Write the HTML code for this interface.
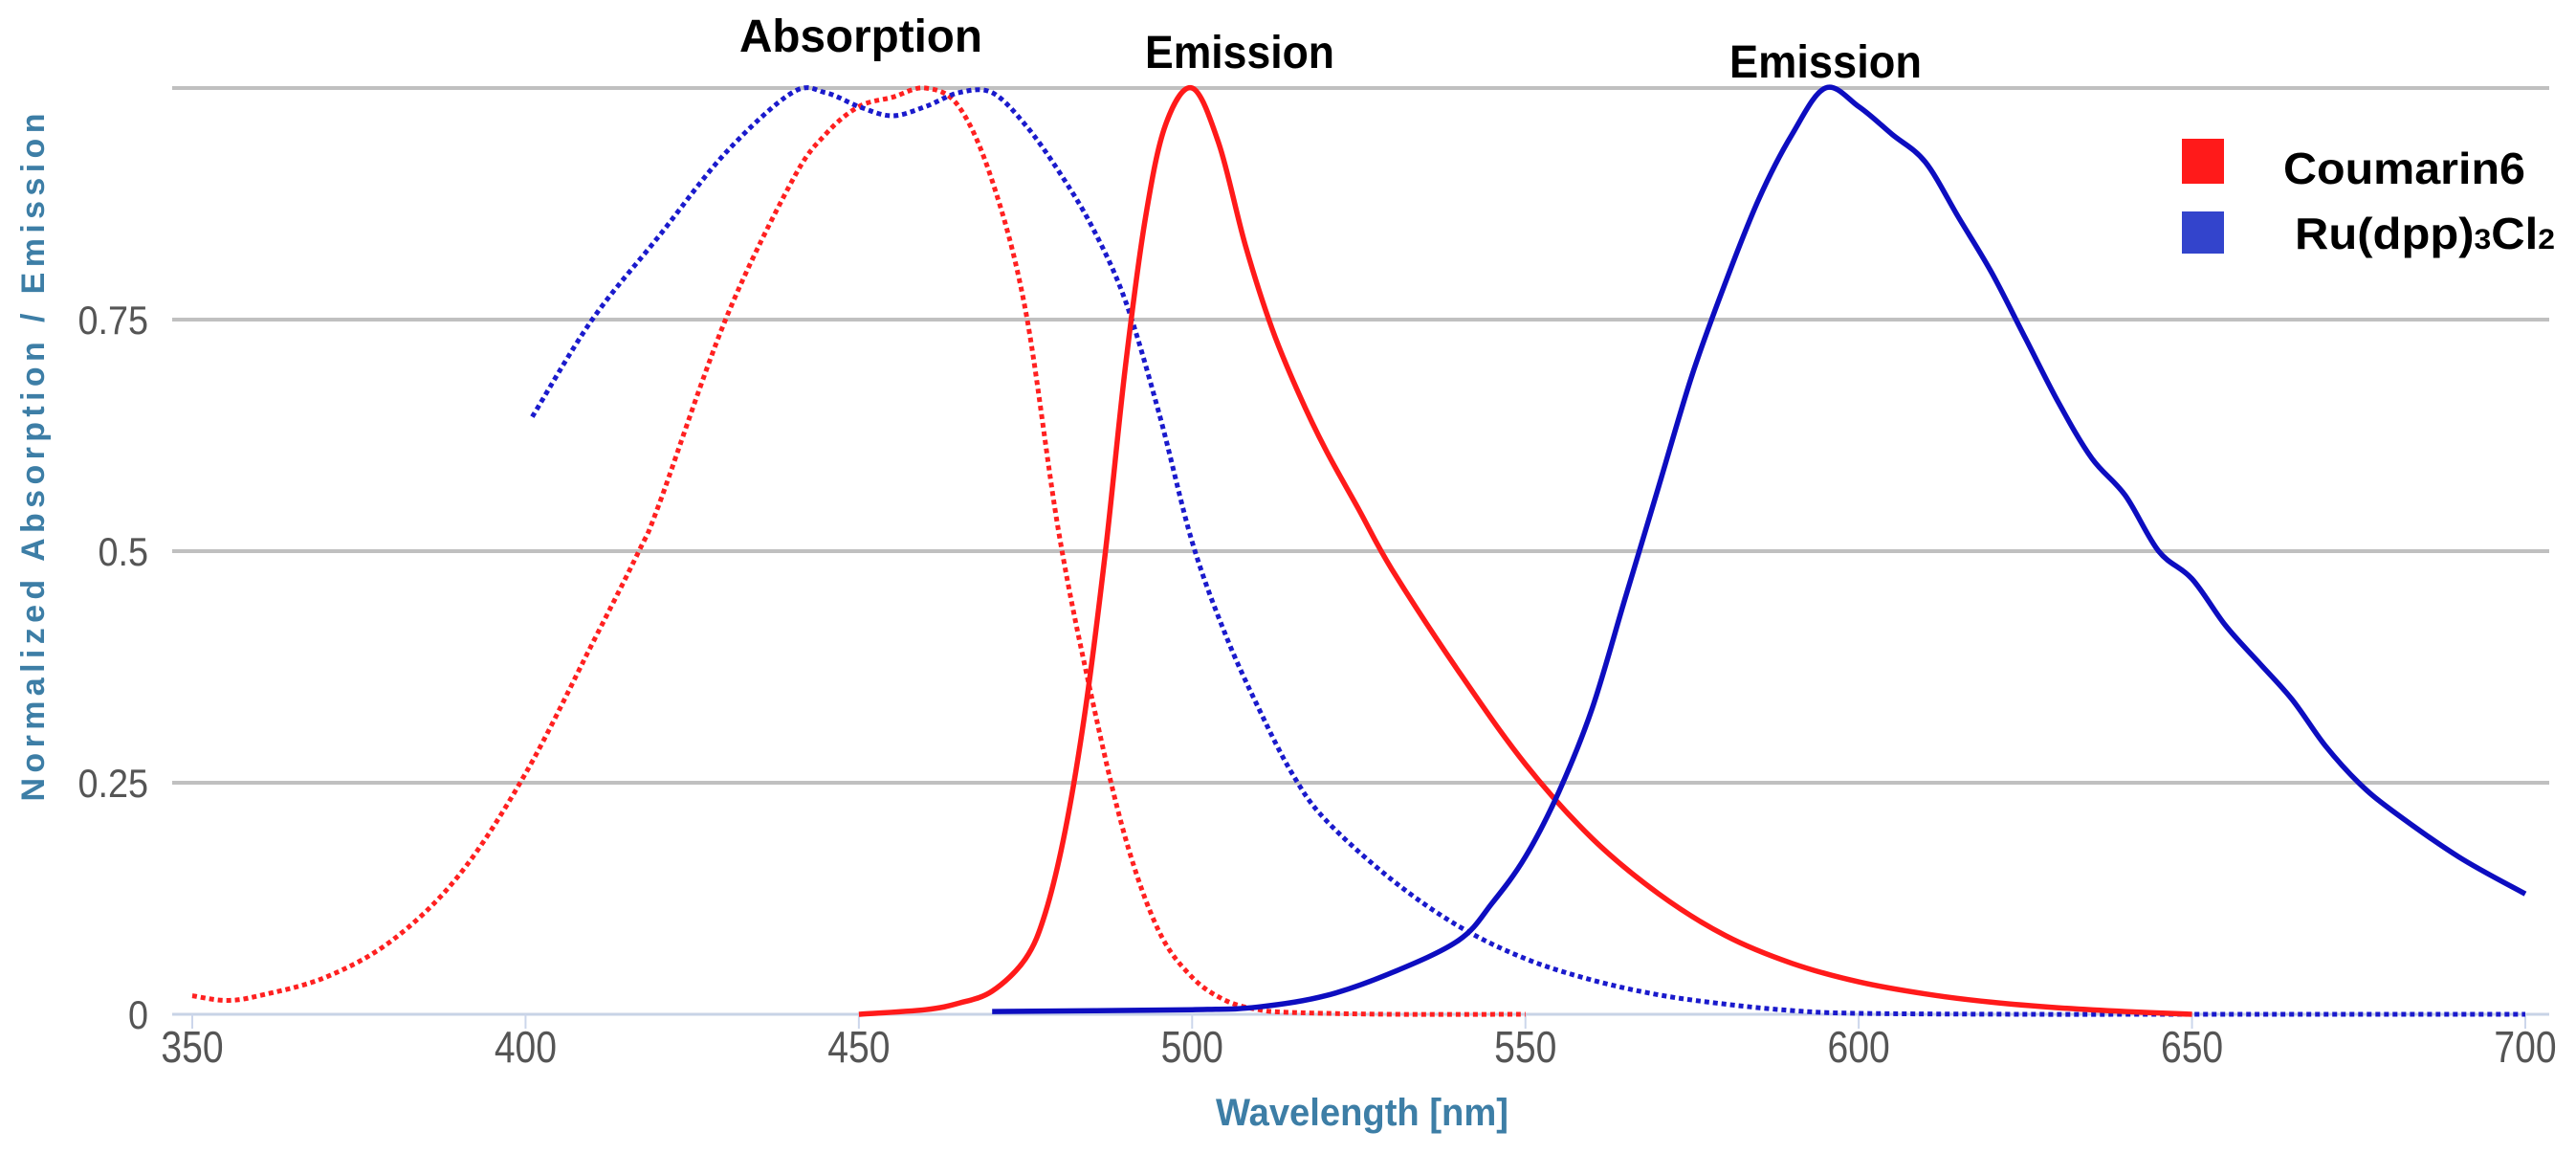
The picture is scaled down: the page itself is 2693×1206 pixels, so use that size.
<!DOCTYPE html>
<html><head><meta charset="utf-8"><style>
html,body{margin:0;padding:0;background:#fff;}
svg{display:block;font-family:"Liberation Sans",sans-serif;}
</style></head><body>
<svg id="chart" width="2693" height="1206" viewBox="0 0 2693 1206">
<g id="grid"></g>
<g id="yticks"></g>
<g id="xticks"></g>
<g id="series"></g>
<text x="46" y="478" transform="rotate(-90 46 478)" text-anchor="middle" font-size="34" font-weight="bold" fill="#3d7ea6" textLength="719" lengthAdjust="spacing">Normalized Absorption / Emission</text>
<text x="1271" y="1176" font-size="40" font-weight="bold" fill="#3d7ea6" textLength="306" lengthAdjust="spacingAndGlyphs">Wavelength [nm]</text>
<text x="773" y="54" font-size="48" font-weight="bold" fill="#000" textLength="254" lengthAdjust="spacingAndGlyphs">Absorption</text>
<text x="1197" y="71" font-size="48" font-weight="bold" fill="#000" textLength="198" lengthAdjust="spacingAndGlyphs">Emission</text>
<text x="1808" y="81" font-size="48" font-weight="bold" fill="#000" textLength="201" lengthAdjust="spacingAndGlyphs">Emission</text>
<g>
<rect x="2281" y="145" width="44" height="47" fill="#ff1a1a"/>
<text x="2387" y="192" font-size="46" font-weight="bold" fill="#000" textLength="253" lengthAdjust="spacingAndGlyphs">Coumarin6</text>
<rect x="2281" y="221" width="44" height="44" fill="#3344cc"/>
<text x="2399" y="260" font-size="46" font-weight="bold" fill="#000" textLength="272" lengthAdjust="spacingAndGlyphs">Ru(dpp)<tspan font-size="30">3</tspan>Cl<tspan font-size="30">2</tspan></text>
</g>
</svg>
<script>
const xTicks=[350,400,450,500,550,600,650,700];
const yTicks=[0,0.25,0.5,0.75,1];
const yTickLabels=["0","0.25","0.5","0.75",""];
const cAbsX=[350,355,360,370,380,390,400,410,417,420,430,440,445,450,455,460,465,470,475,480,485,490,495,500,505,510,515,530,550];
const cAbsY=[0.02,0.015,0.02,0.04,0.08,0.15,0.26,0.4,0.5,0.55,0.75,0.9,0.95,0.98,0.99,1.0,0.98,0.9,0.76,0.52,0.34,0.19,0.09,0.04,0.015,0.005,0.002,0,0];
const rAbsX=[401,410,420,430,440,445,450,455,460,465,470,475,480,485,490,495,500,505,510,515,520,530,540,550,560,570,580,590,600,625,650,700];
const rAbsY=[0.645,0.75,0.84,0.93,0.995,0.995,0.98,0.97,0.98,0.995,0.995,0.96,0.91,0.85,0.77,0.65,0.51,0.41,0.33,0.26,0.21,0.145,0.095,0.06,0.037,0.021,0.011,0.004,0.001,0,0,0];
const cEmX=[450,460,465,470,475,478,481,484,487,490,493,496,500,504,508,512,516,520,525,530,540,550,560,570,580,590,600,610,620,630,640,650];
const cEmY=[0,0.005,0.012,0.025,0.06,0.11,0.2,0.33,0.5,0.7,0.86,0.96,1.0,0.94,0.83,0.74,0.67,0.61,0.545,0.48,0.37,0.27,0.19,0.13,0.085,0.055,0.035,0.022,0.013,0.007,0.003,0];
const rEmX=[470,500,510,520,530,540,545,550,555,560,565,570,575,580,585,590,595,600,605,610,615,620,625,630,635,640,645,650,655,660,665,670,675,680,690,700];
const rEmY=[0.003,0.005,0.008,0.02,0.045,0.08,0.12,0.17,0.24,0.33,0.45,0.57,0.69,0.79,0.88,0.95,1.0,0.98,0.95,0.92,0.86,0.8,0.73,0.66,0.6,0.56,0.5,0.47,0.42,0.38,0.34,0.29,0.25,0.22,0.17,0.13];
const X=v=>201+(v-350)*(2640-201)/350;
const Y=v=>1060-v*968;
const NS="http://www.w3.org/2000/svg";
function mk(tag,attrs,parent){const e=document.createElementNS(NS,tag);for(const k in attrs)e.setAttribute(k,attrs[k]);parent.appendChild(e);return e;}
const grid=document.getElementById('grid'),yt=document.getElementById('yticks'),xt=document.getElementById('xticks'),ser=document.getElementById('series');
yTicks.forEach((t,i)=>{
  const l=mk('line',{x1:180,x2:2665,y1:Y(t),y2:Y(t),stroke:t===0?'#c8d3e6':'#c0c0c0','stroke-width':t===0?3:4},grid);
  
  
  const tx=mk('text',{x:155,y:Y(t)+15,'text-anchor':'end','font-size':42,fill:'#555',transform:'translate(155 0) scale(0.9 1) translate(-155 0)'},yt);
  tx.textContent=yTickLabels[i];
  
  
});
xTicks.forEach(t=>{
  const tk=mk('line',{x1:X(t),x2:X(t),y1:1060,y2:1075,stroke:'#ccd6eb','stroke-width':2},grid);
  
  
  const tx=mk('text',{x:X(t),y:1110,'text-anchor':'middle','font-size':46,fill:'#555',transform:'translate('+X(t)+' 0) scale(0.85 1) translate('+(-X(t))+' 0)'},xt);
  tx.textContent=t;
  
  
});
function smooth(xs,ys){
  const p=xs.map((x,i)=>[X(x),Y(ys[i])]);
  let d='M'+p[0][0].toFixed(1)+','+p[0][1].toFixed(1);
  for(let i=0;i<p.length-1;i++){
    const p0=p[i-1]||p[i],p1=p[i],p2=p[i+1],p3=p[i+2]||p2;
    const c1=[p1[0]+(p2[0]-p0[0])/6,p1[1]+(p2[1]-p0[1])/6];
    const c2=[p2[0]-(p3[0]-p1[0])/6,p2[1]-(p3[1]-p1[1])/6];
    d+='C'+c1[0].toFixed(1)+','+c1[1].toFixed(1)+' '+c2[0].toFixed(1)+','+c2[1].toFixed(1)+' '+p2[0].toFixed(1)+','+p2[1].toFixed(1);
  }
  return d;
}
function line(xs,ys,color,dotted,name){
  const a={d:smooth(xs,ys),fill:'none',stroke:color,'stroke-width':dotted?5:5.5,'stroke-linejoin':'round'};
  if(dotted){a['stroke-dasharray']='5 4';}
  const p=mk('path',a,ser);
  
  
}
line(cAbsX,cAbsY,'#ff2020',true,'coumarin6-absorption-line');
line(rAbsX,rAbsY,'#1a1acc',true,'ru-absorption-line');
line(cEmX,cEmY,'#ff1a1a',false,'coumarin6-emission-line');
line(rEmX,rEmY,'#0d0dc0',false,'ru-emission-line');
</script>
</body></html>
